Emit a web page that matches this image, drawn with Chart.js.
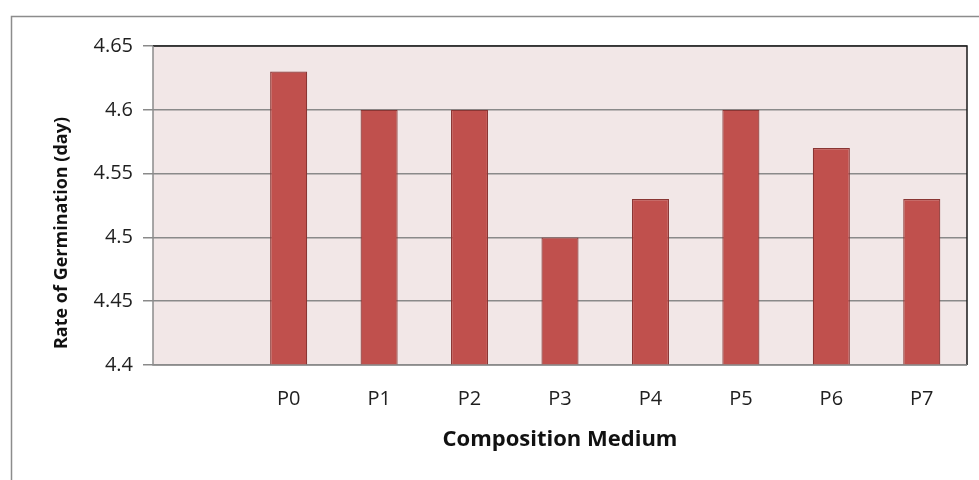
<!DOCTYPE html>
<html>
<head>
<meta charset="utf-8">
<script src="https://cdn.jsdelivr.net/npm/chart.js@4"></script>
<style>
  html, body { margin: 0; padding: 0; background: #ffffff; }
  #wrap { width: 979px; height: 480px; position: relative; }
</style>
</head>
<body>
<div id="wrap"><canvas id="c" width="979" height="480"></canvas></div>
<script>
// Composition media (first slot intentionally left empty)
const categories = ['', 'P0', 'P1', 'P2', 'P3', 'P4', 'P5', 'P6', 'P7'];
// Rate of germination in days
const rateValues = [null, 4.63, 4.60, 4.60, 4.50, 4.53, 4.60, 4.57, 4.53];
const yMin = 4.4;
const yMax = 4.65;
const yStep = 0.05;
const yTitle = 'Rate of Germination (day)';
const xTitle = 'Composition Medium';

// Chart frame, plot-area decorations and the vertical axis title
const framePlugin = {
  id: 'frame',
  beforeDraw(chart) {
    const { ctx, chartArea: a } = chart;
    ctx.save();
    ctx.fillStyle = '#ffffff';
    ctx.fillRect(0, 0, chart.width, chart.height);
    // outer frame (left and top edges)
    ctx.strokeStyle = '#8c8c8c';
    ctx.lineWidth = 1.5;
    ctx.beginPath();
    ctx.moveTo(11.5, chart.height);
    ctx.lineTo(11.5, 16.5);
    ctx.lineTo(chart.width, 16.5);
    ctx.stroke();
    // plot background
    ctx.fillStyle = '#f2e7e7';
    ctx.fillRect(a.left, a.top, a.right - a.left, a.bottom - a.top);
    ctx.restore();
  },
  afterDraw(chart) {
    const { ctx, chartArea: a } = chart;
    ctx.save();
    ctx.strokeStyle = '#1a1a1a';
    ctx.lineWidth = 1.5;
    ctx.beginPath();
    ctx.moveTo(a.left, a.top);
    ctx.lineTo(a.right, a.top);
    ctx.lineTo(a.right, a.bottom);
    ctx.stroke();
    ctx.strokeStyle = '#8c8c8c';
    ctx.beginPath();
    ctx.moveTo(a.left, a.top);
    ctx.lineTo(a.left, a.bottom);
    ctx.lineTo(a.right, a.bottom);
    ctx.stroke();
    // y-axis title, rotated, sitting slightly below the plot's middle
    ctx.translate(62, 233);
    ctx.rotate(-Math.PI / 2);
    ctx.fillStyle = '#111111';
    ctx.font = 'bold 18px "Open Sans"';
    ctx.textAlign = 'center';
    ctx.textBaseline = 'middle';
    ctx.fillText(yTitle, 0, 0);
    ctx.restore();
  }
};

new Chart(document.getElementById('c'), {
  type: 'bar',
  data: {
    labels: categories,
    datasets: [{
      data: rateValues,
      backgroundColor: '#c0504d',
      borderColor: '#8a3634',
      borderWidth: 1.2,
      categoryPercentage: 1.0,
      barPercentage: 0.41
    }]
  },
  options: {
    responsive: false,
    animation: false,
    layout: { padding: { top: 46, right: 12, left: 0, bottom: 0 } },
    plugins: { legend: { display: false }, tooltip: { enabled: false } },
    scales: {
      x: {
        grid: { display: false, drawTicks: false },
        border: { display: false },
        ticks: {
          color: '#1f1f1f',
          padding: 22,
          font: { family: 'Open Sans', size: 20 }
        },
        title: {
          display: true,
          text: xTitle,
          color: '#111111',
          font: { family: 'Open Sans', size: 22, weight: 'bold' },
          padding: { top: 0, bottom: 27 }
        },
        afterFit(scale) { scale.height = 115; }
      },
      y: {
        min: yMin,
        max: yMax,
        grid: {
          color: '#8a8a8a',
          lineWidth: 1.5,
          drawTicks: true,
          tickLength: 10,
          tickColor: '#8a8a8a'
        },
        border: { display: false },
        ticks: {
          stepSize: yStep,
          color: '#1f1f1f',
          padding: 10,
          font: { family: 'Open Sans', size: 20 },
          callback: (v) => String(parseFloat(v.toFixed(2)))
        },
        title: { display: false },
        afterFit(scale) { scale.width = 153; }
      }
    }
  },
  plugins: [framePlugin]
});
</script>
</body>
</html>
